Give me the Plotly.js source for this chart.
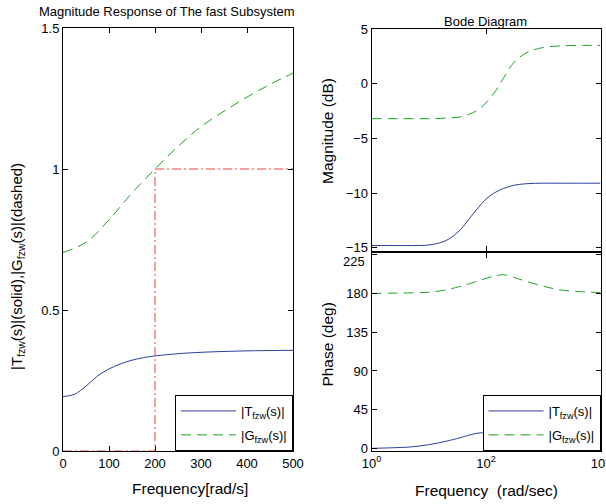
<!DOCTYPE html>
<html>
<head>
<meta charset="utf-8">
<script src="https://cdn.plot.ly/plotly-3.0.1.min.js"></script>
<style>html,body{margin:0;padding:0;background:#fff;}#chart{width:606px;height:504px;}</style>
</head>
<body>
<div id="chart"></div>
<script>
// ---- Left panel data: magnitude vs linear frequency (rad/s)
var leftFreq = [0, 25, 50, 75, 100, 125, 150, 175, 200, 250, 300, 400, 500];
var leftT    = [0.193, 0.201, 0.230, 0.266, 0.291, 0.309, 0.322, 0.331, 0.337, 0.345, 0.350, 0.355, 0.357];
var leftGFreq = [0, 50, 100, 150, 200, 250, 300, 350, 400, 450, 500];
var leftG     = [0.704, 0.740, 0.820, 0.915, 1.0, 1.08, 1.15, 1.205, 1.255, 1.30, 1.34];
var refX = [0, 200, 200, 500];
var refY = [0, 0, 1, 1];
var leftXTicks = [0, 100, 200, 300, 400, 500];
var leftYTicks = [0, 0.5, 1, 1.5];

// ---- Right panel data: Bode diagram
var bodeW   = [1, 2, 5, 10, 20, 35, 50, 70, 100, 150, 200, 300, 500, 1000, 2000, 5000, 10000];
var magT    = [-14.8, -14.8, -14.8, -14.75, -14.35, -13.4, -12.4, -11.46, -10.55, -9.9, -9.6, -9.3, -9.15, -9.1, -9.1, -9.1, -9.1];
var magG    = [-3.2, -3.2, -3.2, -3.2, -3.15, -3.05, -2.8, -2.45, -1.75, -0.6, 0.47, 1.88, 2.8, 3.31, 3.45, 3.5, 3.5];
var phaseT  = [0.3, 0.8, 2, 4.5, 8.5, 12.5, 15.5, 17.8, 18.3, 16, 13.5, 9.5, 6, 3, 1.5, 0.6, 0.3];
var phaseG  = [180, 180.2, 180.6, 181.3, 184, 188, 191, 194, 197.5, 200.3, 201.6, 198.7, 194, 188.3, 184, 181.8, 180.8];
var bodeXTicks = [1, 100, 10000];
var bodeXText  = ['10<sup>0</sup>', '10<sup>2</sup>', '10<sup>4</sup>'];
var magTicks   = [-15, -10, -5, 0, 5];
var phaseTicks = [0, 45, 90, 135, 180, 225];
var phaseText  = ['0', '45', '90', '135', '180', ''];
var phaseTopLabel = '225';

var nameT = '|T<sub>fzw</sub>(s)|';
var nameG = '|G<sub>fzw</sub>(s)|';

var blue = '#2c3e9c';
var green = '#22a022';
var red = '#e8483e';
var FONT = 'Liberation Sans, Arial, sans-serif';

var W = 606, H = 504;
function px(x){ return x / W; }
function py(y){ return 1 - y / H; }

var traces = [
  {x: refX, y: refY, xaxis: 'x', yaxis: 'y', mode: 'lines', showlegend: false,
   line: {color: red, width: 1, dash: '9px,3px,2px,3px'}},
  {x: leftFreq, y: leftT, xaxis: 'x', yaxis: 'y', mode: 'lines', name: nameT, legend: 'legend', legendgroup: 'a',
   line: {color: blue, width: 1, shape: 'spline'}},
  {x: leftGFreq, y: leftG, xaxis: 'x', yaxis: 'y', mode: 'lines', name: nameG, legend: 'legend', legendgroup: 'b',
   line: {color: green, width: 1, dash: '10px,6px', shape: 'spline'}},
  {x: bodeW, y: magT, xaxis: 'x2', yaxis: 'y2', mode: 'lines', showlegend: false,
   line: {color: blue, width: 1, shape: 'spline'}},
  {x: bodeW, y: magG, xaxis: 'x2', yaxis: 'y2', mode: 'lines', showlegend: false,
   line: {color: green, width: 1, dash: '10px,6px', shape: 'spline'}},
  {x: bodeW, y: phaseT, xaxis: 'x3', yaxis: 'y3', mode: 'lines', name: nameT, legend: 'legend2', legendgroup: 'c',
   line: {color: blue, width: 1, shape: 'spline'}},
  {x: bodeW, y: phaseG, xaxis: 'x3', yaxis: 'y3', mode: 'lines', name: nameG, legend: 'legend2', legendgroup: 'd',
   line: {color: green, width: 1, dash: '10px,6px', shape: 'spline'}}
];

function axisBase(extra){
  var a = {showline: true, linecolor: '#000', linewidth: 1, mirror: 'ticks', ticks: 'inside',
    ticklen: 5, tickcolor: '#000', tickwidth: 1, showgrid: false, zeroline: false,
    tickfont: {family: FONT, size: 13, color: '#000'}, fixedrange: true};
  for (var k in extra) a[k] = extra[k];
  return a;
}

var legendBase = {bgcolor: '#fff', bordercolor: '#000', borderwidth: 1,
  font: {family: FONT, size: 13, color: '#000'}, xanchor: 'right', yanchor: 'bottom',
  itemwidth: 55, tracegroupgap: 4};

var layout = {
  width: W, height: H,
  margin: {l: 0, r: 0, t: 0, b: 0},
  paper_bgcolor: '#fff', plot_bgcolor: '#fff',
  font: {family: FONT, color: '#000'},
  xaxis: axisBase({domain: [px(63), px(293)], range: [0, 500], tickvals: leftXTicks, anchor: 'y'}),
  yaxis: axisBase({domain: [py(451), py(28)], range: [0, 1.5], tickvals: leftYTicks, anchor: 'x'}),
  xaxis2: axisBase({domain: [px(371.5), px(600.5)], type: 'log', range: [0, 4], tickvals: bodeXTicks,
    showticklabels: false, anchor: 'y2'}),
  yaxis2: axisBase({domain: [py(251), py(29)], range: [-15.3, 5], tickvals: magTicks, anchor: 'x2'}),
  xaxis3: axisBase({domain: [px(371.5), px(600.5)], type: 'log', range: [0, 4], tickvals: bodeXTicks,
    ticktext: bodeXText, anchor: 'y3', ticklabeloverflow: 'allow'}),
  yaxis3: axisBase({domain: [py(451), py(253)], range: [-2.8, 226.8], tickvals: phaseTicks, ticktext: phaseText, anchor: 'x3'}),
  legend: Object.assign({}, legendBase, {x: px(293), y: py(451)}),
  legend2: Object.assign({}, legendBase, {x: px(600.5), y: py(451)}),
  annotations: [
    {text: 'Magnitude Response of The fast Subsystem', x: px(166.5), y: py(11.7), xref: 'paper', yref: 'paper',
     showarrow: false, xanchor: 'center', yanchor: 'middle', font: {family: FONT, size: 13, color: '#000'}},
    {text: 'Bode Diagram', x: px(485.8), y: py(21.7), xref: 'paper', yref: 'paper',
     showarrow: false, xanchor: 'center', yanchor: 'middle', font: {family: FONT, size: 13, color: '#000'}},
    {text: '|T<sub>fzw</sub>(s)|(solid),|G<sub>fzw</sub>(s)|(dashed)', x: px(17), y: py(267), xref: 'paper', yref: 'paper',
     showarrow: false, textangle: -90, xanchor: 'center', yanchor: 'middle', font: {family: FONT, size: 15, color: '#000'}},
    {text: 'Frequency[rad/s]', x: px(190), y: py(488), xref: 'paper', yref: 'paper',
     showarrow: false, xanchor: 'center', yanchor: 'middle', font: {family: FONT, size: 15.5, color: '#000'}},
    {text: 'Frequency  (rad/sec)', x: px(486.7), y: py(490), xref: 'paper', yref: 'paper',
     showarrow: false, xanchor: 'center', yanchor: 'middle', font: {family: FONT, size: 15.5, color: '#000'}},
    {text: 'Magnitude (dB)', x: px(328), y: py(131), xref: 'paper', yref: 'paper',
     showarrow: false, textangle: -90, xanchor: 'center', yanchor: 'middle', font: {family: FONT, size: 15.5, color: '#000'}},
    {text: 'Phase (deg)', x: px(328), y: py(344.6), xref: 'paper', yref: 'paper',
     showarrow: false, textangle: -90, xanchor: 'center', yanchor: 'middle', font: {family: FONT, size: 15.5, color: '#000'}},
    {text: phaseTopLabel, x: px(367), y: py(261), xref: 'paper', yref: 'paper',
     showarrow: false, xanchor: 'right', yanchor: 'middle', font: {family: FONT, size: 13, color: '#000'}}
  ]
};

Plotly.newPlot('chart', traces, layout, {staticPlot: true, displayModeBar: false});
</script>
</body>
</html>
